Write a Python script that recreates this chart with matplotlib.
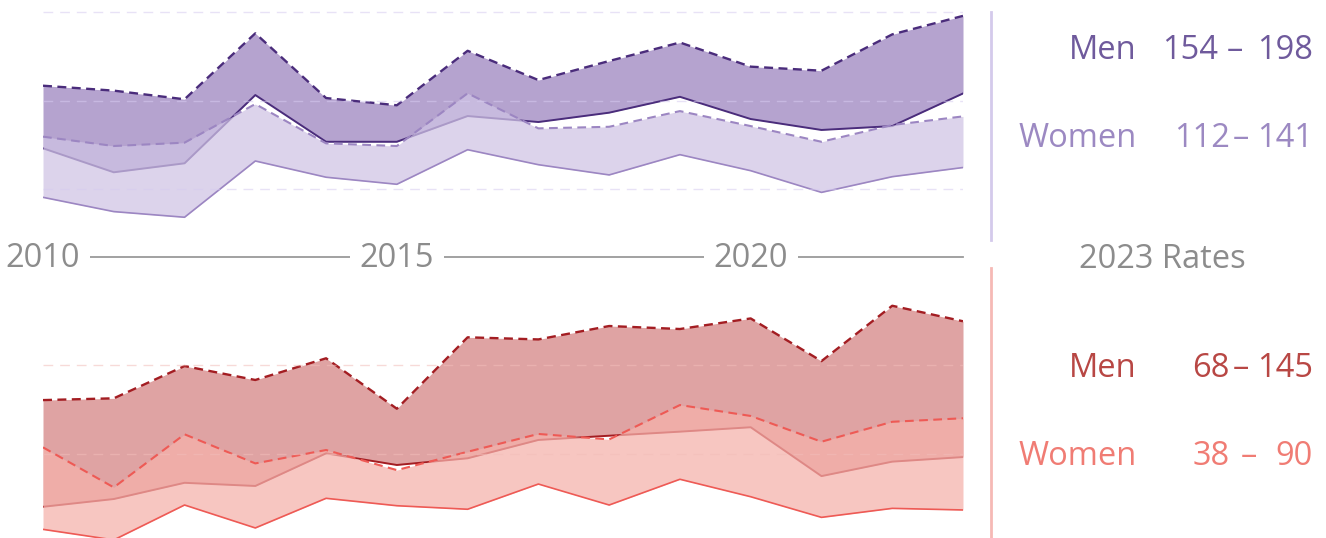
import numpy as np
import matplotlib
matplotlib.use('Agg')
import matplotlib.pyplot as plt
import matplotlib.transforms as mtransforms
from matplotlib.lines import Line2D

plt.rcParams['font.family'] = ['Open Sans', 'DejaVu Sans']

years = np.arange(2010, 2024)

# top panel (purple)
men_hi_a = [158.4, 155.6, 150.7, 188.1, 151.4, 147.3, 178.2, 161.6, 172.4, 182.9, 169.2, 166.9, 187.5, 198]
men_lo_a = [122.9, 109.3, 114.4, 153.1, 126.6, 126.6, 141.2, 137.8, 143.1, 152.1, 139.5, 133.3, 135.5, 154]
wom_hi_a = [129.5, 124.2, 126.1, 148.0, 125.7, 124.2, 154.1, 134.2, 135.1, 144.0, 135.5, 126.6, 136.1, 141]
wom_lo_a = [95.1, 87.0, 83.8, 115.7, 106.5, 102.5, 122.1, 113.6, 107.8, 119.3, 110.2, 97.9, 106.8, 112]

# bottom panel (red)
men_hi_b = [100.3, 101.3, 119.6, 111.7, 124.0, 95.4, 135.9, 134.7, 142.3, 140.6, 146.6, 122.4, 153.8, 145]
men_lo_b = [39.8, 44.2, 53.4, 51.6, 70.1, 63.5, 67.3, 77.7, 80.1, 82.4, 84.9, 57.2, 65.4, 68]
wom_hi_b = [73.5, 50.8, 80.9, 64.4, 72.0, 60.6, 71.0, 81.1, 78.0, 97.5, 91.3, 76.7, 88.0, 90]
wom_lo_b = [27.0, 21.0, 40.8, 27.8, 44.6, 40.4, 38.4, 52.7, 40.8, 55.4, 45.5, 33.8, 38.9, 38]

grid_a = [100, 150, 200]
grid_b = [70, 120]
year_labels = [2010, 2015, 2020]

rate_names = ['Men', 'Women', 'Men', 'Women']
rate_lo = [154, 112, 68, 38]
rate_hi = [198, 141, 145, 90]
rate_colors = ['#6f5a9c', '#9c89c2', '#b84744', '#f07c74']

W, H = 1326, 538
FS = 23.5
def fx(px): return px / W
def fy(py): return 1 - py / H

# pixel layout of the rate rows: baseline and right end of the low value
row_base = [59, 146.5, 377, 465]
row_lo_end = [1218, 1230, 1230, 1230]

fig = plt.figure(figsize=(W / 100, H / 100), dpi=100)
ax_a = fig.add_axes([fx(43), fy(240), fx(920), 240 / H])
ax_b = fig.add_axes([fx(43), 0, fx(920), 270 / H])

def band_panel(ax, men_hi, men_lo, wom_hi, wom_lo, grid, c):
  ax.fill_between(years, men_lo, men_hi, color=c['men_fill'], lw=0, zorder=1)
  l = ax.plot(years, men_hi, color=c['men_line'], lw=1.7, zorder=2)[0]
  l.set_dashes((3.8, 2.3))
  ax.plot(years, men_lo, color=c['men_line'], lw=1.4, zorder=2)
  ax.fill_between(years, wom_lo, wom_hi, color=c['wom_fill'], alpha=0.73, lw=0, zorder=3)
  l = ax.plot(years, wom_hi, color=c['wom_line'], lw=1.5, zorder=4)[0]
  l.set_dashes((4.2, 2.6))
  ax.plot(years, wom_lo, color=c['wom_line'], lw=1.2, zorder=4)
  for g in grid:
    l = ax.plot([years[0], years[-1]], [g, g], color=c['grid'], lw=1.0, alpha=0.55, zorder=5)[0]
    l.set_dashes((7, 5))
  ax.set_xlim(years[0], years[-1])
  ax.axis('off')

band_panel(ax_a, men_hi_a, men_lo_a, wom_hi_a, wom_lo_a, grid_a,
  dict(men_fill='#b5a3cf', men_line='#4a2c7b', wom_fill='#cfc3e4', wom_line='#9c86c2', grid='#d6cbf0'))
ax_a.set_ylim(70.9, 207.0)

band_panel(ax_b, men_hi_b, men_lo_b, wom_hi_b, wom_lo_b, grid_b,
  dict(men_fill='#dfa3a3', men_line='#a31d22', wom_fill='#f5b1ab', wom_line='#ee5a55', grid='#f2bdb9'))
ax_b.set_ylim(22.1, 175.2)

# year axis between the panels
blend = mtransforms.blended_transform_factory(ax_a.transData, fig.transFigure)
ax_a.plot([years[0], years[-1]], [fy(257), fy(257)], color='#9a9a9a', lw=1.3,
  transform=blend, clip_on=False, zorder=1)
for yr in year_labels:
  ax_a.text(yr, fy(267), str(yr), transform=blend, ha='center', va='baseline',
    fontsize=FS, color='#8c8c8c', zorder=6,
    bbox=dict(boxstyle='square,pad=0.3', fc='white', ec='none'))

# side labels
fig.add_artist(Line2D([fx(991), fx(991)], [fy(12), fy(240)], color='#d4caeb', lw=2))
fig.add_artist(Line2D([fx(991), fx(991)], [fy(268), fy(538)], color='#f6b9b5', lw=2))
fig.text(fx(1162), fy(268), '2023 Rates', ha='center', va='baseline', fontsize=FS, color='#8c8c8c')
renderer = fig.canvas.get_renderer()
for i in range(len(rate_names)):
  col = rate_colors[i]; yb = fy(row_base[i])
  fig.text(fx(1137), yb, rate_names[i], ha='right', va='baseline', fontsize=FS, color=col)
  fig.text(fx(row_lo_end[i]), yb, str(rate_lo[i]), ha='right', va='baseline', fontsize=FS, color=col)
  hi = fig.text(fx(1313), yb, str(rate_hi[i]), ha='right', va='baseline', fontsize=FS, color=col)
  hi_left = hi.get_window_extent(renderer).x0
  dash_x = row_lo_end[i] + 0.42 * (hi_left - row_lo_end[i])
  fig.text(fx(dash_x), yb, '–', ha='center', va='baseline', fontsize=FS, color=col)

fig.savefig('out.png', dpi=100)
